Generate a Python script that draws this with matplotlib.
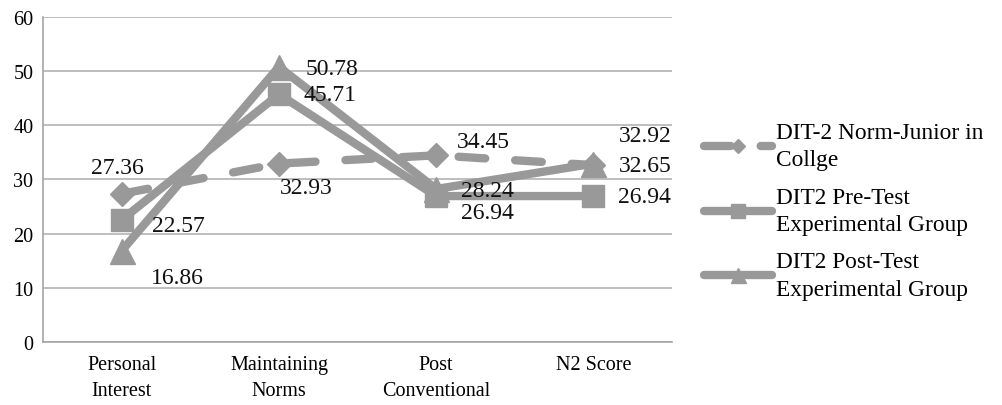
import matplotlib.pyplot as plt

plt.rcParams['font.family'] = ['Liberation Serif', 'DejaVu Serif']

categories = ['Personal\nInterest', 'Maintaining\nNorms', 'Post\nConventional', 'N2 Score']
norm_junior = [27.36, 32.93, 34.45, 32.65]
pre_test = [22.57, 45.71, 26.94, 26.94]
post_test = [16.86, 50.78, 28.24, 32.92]

series_names = ['DIT-2 Norm-Junior in\nCollge',
                'DIT2 Pre-Test\nExperimental Group',
                'DIT2 Post-Test\nExperimental Group']

gray = '#999999'
x = range(len(categories))

fig = plt.figure(figsize=(10.03, 4.06), dpi=100)
ax = fig.add_axes([0.043, 0.155, 0.627, 0.801])

l1, = ax.plot(x, norm_junior, color=gray, lw=6, ls=(0, (3.2, 3.6)),
              marker='D', ms=12, dash_capstyle='round', solid_capstyle='round')
l2, = ax.plot(x, pre_test, color=gray, lw=6, marker='s', ms=16,
              solid_capstyle='round')
l3, = ax.plot(x, post_test, color=gray, lw=6, marker='^', ms=18,
              solid_capstyle='round')

# value labels, offsets in points from each marker
offsets = {
    'norm': [(-3, 19), (20, -17), (34, 10), (37, 0)],
    'pre': [(41, -4), (37, 0), (37, -11.5), (37, -0.5)],
    'post': [(40, -19), (38, -1.5), (37, -1.4), (37, 20)],
}
for key, vals in [('norm', norm_junior), ('pre', pre_test), ('post', post_test)]:
    for i, v in enumerate(vals):
        dx, dy = offsets[key][i]
        ax.annotate(f'{v:.2f}', (i, v), xytext=(dx, dy), textcoords='offset points',
                    ha='center', va='center', fontsize=17, color='#111111')

ax.set_xlim(-0.5, 3.5)
ax.set_ylim(0, 60)
ax.set_yticks(range(0, 61, 10))
ax.set_xticks(list(x))
ax.set_xticklabels(categories, fontsize=14.5, linespacing=1.52)
ax.tick_params(axis='y', labelsize=14.5, length=0, pad=7)
ax.tick_params(axis='x', length=0, pad=9)
ax.yaxis.grid(True, color='#b3b3b3', lw=1.2)
ax.set_axisbelow(True)
for s in ['top', 'right']:
    ax.spines[s].set_visible(False)
for s in ['left', 'bottom']:
    ax.spines[s].set_color('#a6a6a6')
    ax.spines[s].set_linewidth(1.2)

leg = fig.legend([l1, l2, l3], series_names, loc='center left',
                 bbox_to_anchor=(0.702, 0.478), frameon=False, fontsize=16.8,
                 handlelength=2.9, handletextpad=0.2, labelspacing=0.7,
                 markerscale=0.6, borderaxespad=0, borderpad=0)
for t in leg.get_texts():
    t.set_linespacing(1.4)

fig.savefig('out.png', dpi=100)
